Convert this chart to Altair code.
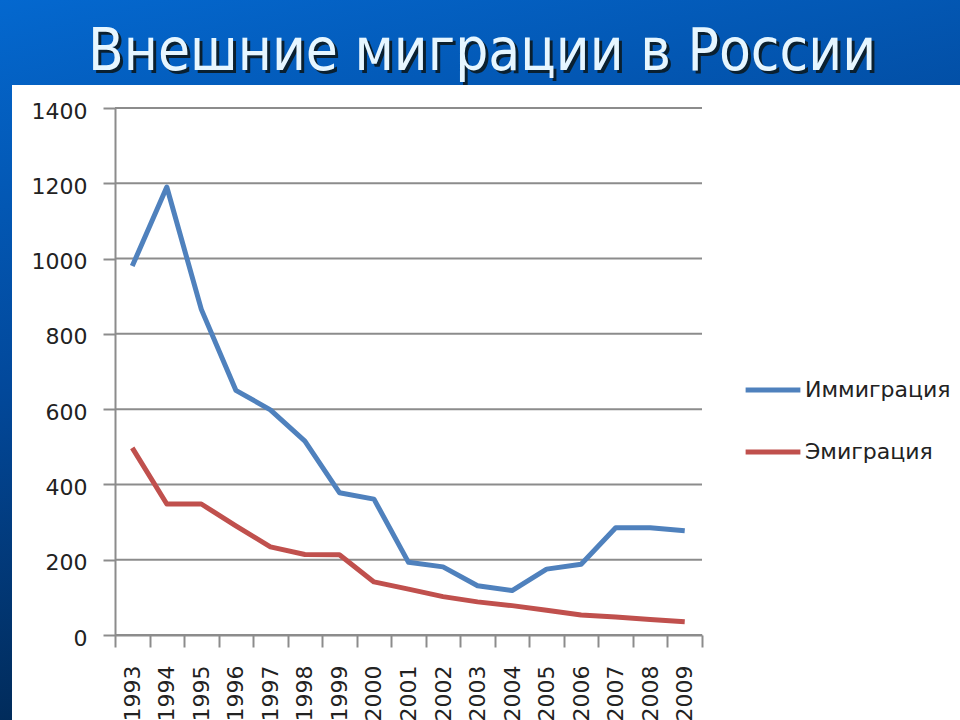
import altair as alt
import pandas as pd

years = [str(y) for y in range(1993, 2010)]
immigration = [980, 1190, 865, 650, 598, 515, 378, 361, 193, 181, 131, 118, 175, 188, 285, 285, 277]
emigration = [497, 348, 348, 290, 234, 214, 213, 141, 122, 102, 88, 78, 66, 53, 48, 41, 35]
series_names = ["Иммиграция", "Эмиграция"]
series_colors = ["#4F81BD", "#C0504D"]
y_ticks = [0, 200, 400, 600, 800, 1000, 1200, 1400]
title_text = "Внешние миграции в России"

rows = []
for i, y in enumerate(years):
    rows.append({"year": y, "series": series_names[0], "value": immigration[i]})
    rows.append({"year": y, "series": series_names[1], "value": emigration[i]})
df = pd.DataFrame(rows)
grid_df = pd.DataFrame({"v": y_ticks})

W, H = 587, 527
PL, PT, PR, PB = 115, 108, 258, 85

one = alt.Data(values=[{}])
TITLE_FONT = "Liberation Sans Narrow, DejaVu Sans Condensed, Liberation Sans, sans-serif"

bg = alt.Chart(one).mark_rect(
    fill={"gradient": "linear", "x1": 0, "y1": 0, "x2": 0.3, "y2": 1,
          "stops": [{"offset": 0, "color": "#0468CF"},
                    {"offset": 0.5, "color": "#02489A"},
                    {"offset": 1, "color": "#01264F"}]}
).encode(x=alt.value(-PL), x2=alt.value(W + PR), y=alt.value(-PT), y2=alt.value(H + PB))

panel = alt.Chart(one).mark_rect(fill="white").encode(
    x=alt.value(12 - PL), x2=alt.value(W + PR), y=alt.value(85 - PT), y2=alt.value(H + PB))

title_shadow = alt.Chart(one).mark_text(
    font=TITLE_FONT, fontSize=58, color="#0A2030", align="center", baseline="alphabetic"
).encode(x=alt.value(482 - PL + 3), y=alt.value(70 - PT + 3), text=alt.value(title_text))

title = alt.Chart(one).mark_text(
    font=TITLE_FONT, fontSize=58, color="#E6F6FF", align="center", baseline="alphabetic"
).encode(x=alt.value(482 - PL), y=alt.value(70 - PT), text=alt.value(title_text))

yscale = alt.Scale(domain=[0, 1400], nice=False)
yaxis = alt.Axis(title=None, values=y_ticks, format="d", labelFontSize=22, labelFont="DejaVu Sans",
                 labelColor="#222222", tickSize=12, tickColor="#8C8C8C",
                 domainColor="#8C8C8C", tickWidth=2, domainWidth=2, labelPadding=16,
                 labelOffset=3, grid=False, zindex=1)

grid = alt.Chart(grid_df).mark_rule(color="#8C8C8C", strokeWidth=2).encode(
    y=alt.Y("v:Q", scale=yscale, axis=yaxis))

lines = alt.Chart(df).mark_line(strokeWidth=5, strokeJoin="round").encode(
    x=alt.X("year:O", bandPosition=0.5,
            scale=alt.Scale(type="band", paddingInner=0, paddingOuter=0),
            sort=years,
            axis=alt.Axis(title=None, tickBand="extent", labelAngle=-90, labelFontSize=22,
                          labelFont="DejaVu Sans", labelColor="#222222", tickSize=12,
                          tickColor="#8C8C8C", domainColor="#8C8C8C", tickWidth=2, domainWidth=2,
                          labelPadding=18, grid=False, zindex=1)),
    y=alt.Y("value:Q", scale=yscale, axis=yaxis),
    color=alt.Color("series:N", scale=alt.Scale(domain=series_names, range=series_colors),
                    sort=series_names,
                    legend=alt.Legend(title=None, orient="none", legendX=628, legendY=252,
                                      symbolType="stroke", symbolStrokeWidth=5, symbolSize=3000,
                                      labelFontSize=22, labelFont="DejaVu Sans",
                                      labelColor="#222222", rowPadding=21, labelOffset=2)),
    detail="series:N",
)

chart = alt.layer(bg, panel, title_shadow, title, grid, lines).properties(
    width=W, height=H,
    autosize=alt.AutoSizeParams(type="none"),
    padding={"left": PL, "top": PT, "right": PR, "bottom": PB},
).configure_view(stroke=None)

chart.save("out.html", embed_options={"renderer": "svg", "actions": False})
